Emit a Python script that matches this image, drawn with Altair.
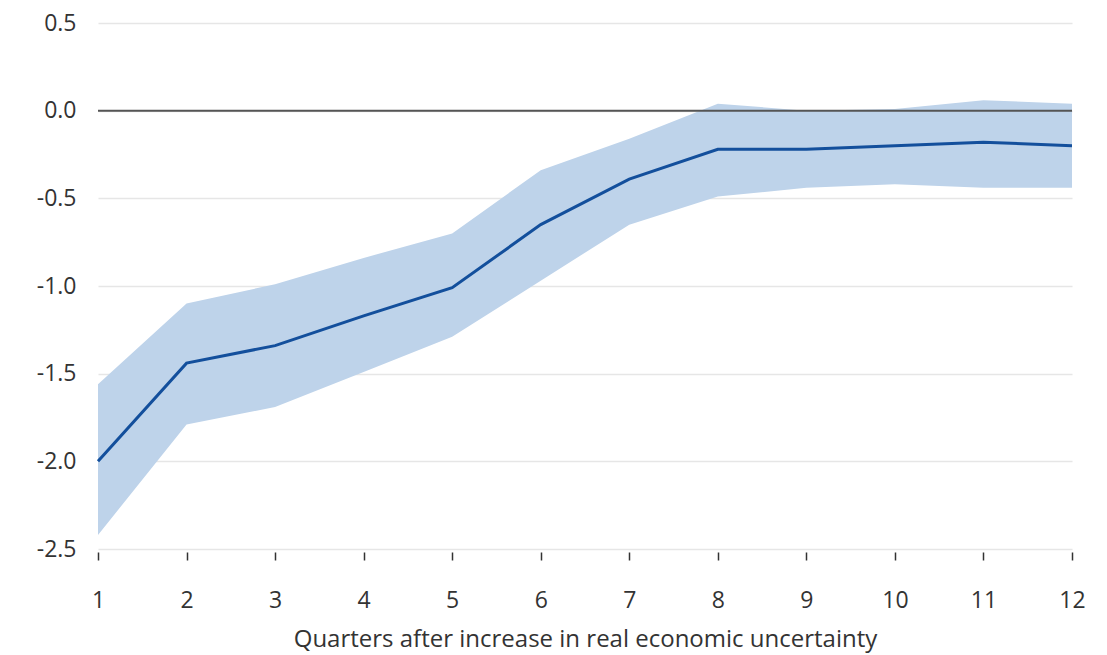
import altair as alt
import pandas as pd

# Impulse response of activity to a shock in real economic uncertainty
quarters = [1, 2, 3, 4, 5, 6, 7, 8, 9, 10, 11, 12]
response = [-2.00, -1.44, -1.34, -1.17, -1.01, -0.65, -0.39, -0.22, -0.22, -0.20, -0.18, -0.20]
upper = [-1.56, -1.10, -0.99, -0.84, -0.70, -0.34, -0.16, 0.04, 0.00, 0.01, 0.06, 0.04]
lower = [-2.42, -1.79, -1.69, -1.49, -1.29, -0.97, -0.65, -0.49, -0.44, -0.42, -0.44, -0.44]
y_ticks = [0.5, 0.0, -0.5, -1.0, -1.5, -2.0, -2.5]

df = pd.DataFrame({"q": quarters, "resp": response, "hi": upper, "lo": lower})

FONT = "Open Sans"
TEXT = "#333333"

x_scale = alt.Scale(domain=[1, 12], nice=False, zero=False)
y_scale = alt.Scale(domain=[-2.5, 0.5], nice=False, zero=False)

x_axis = alt.Axis(
    values=quarters,
    format="d",
    title="Quarters after increase in real economic uncertainty",
    grid=False,
    domain=False,
    ticks=True,
    tickColor=TEXT,
    tickSize=8,
    tickWidth=1.5,
    offset=3,
    labelFlush=False,
    labelPadding=29,
    labelFontSize=23,
    labelColor=TEXT,
    labelFont=FONT,
    titleFont=FONT,
    titleFontSize=24,
    titleFontWeight="normal",
    titleColor=TEXT,
    titlePadding=15,
)

y_axis = alt.Axis(
    values=y_ticks,
    labelExpr="replace(format(datum.value, '.1f'), '\u2212', '-')",
    title=None,
    domain=False,
    ticks=False,
    grid=True,
    gridColor="#e6e6e6",
    gridWidth=1.5,
    labelPadding=22,
    labelFontSize=23,
    labelColor=TEXT,
    labelFont=FONT,
)

band = alt.Chart(df).mark_area(color="#bed3ea", opacity=1).encode(
    x=alt.X("q:Q", scale=x_scale, axis=x_axis),
    y=alt.Y("lo:Q", scale=y_scale, axis=y_axis),
    y2="hi:Q",
)

zero = alt.Chart(pd.DataFrame({"v": [0.0]})).mark_rule(
    color="#555555", strokeWidth=2
).encode(y=alt.Y("v:Q", scale=y_scale, axis=y_axis))

line = alt.Chart(df).mark_line(color="#134f9c", strokeWidth=3).encode(
    x=alt.X("q:Q", scale=x_scale, axis=x_axis),
    y=alt.Y("resp:Q", scale=y_scale, axis=y_axis),
)

chart = (
    alt.layer(band, zero, line)
    .properties(
        width=974,
        height=526,
        background="white",
        autosize=alt.AutoSizeParams(type="none"),
        padding={"left": 98, "top": 23, "right": 35, "bottom": 106},
    )
    .configure_view(stroke="transparent", strokeWidth=0)
)

chart.save("out.html", embed_options={"renderer": "svg", "actions": False})
